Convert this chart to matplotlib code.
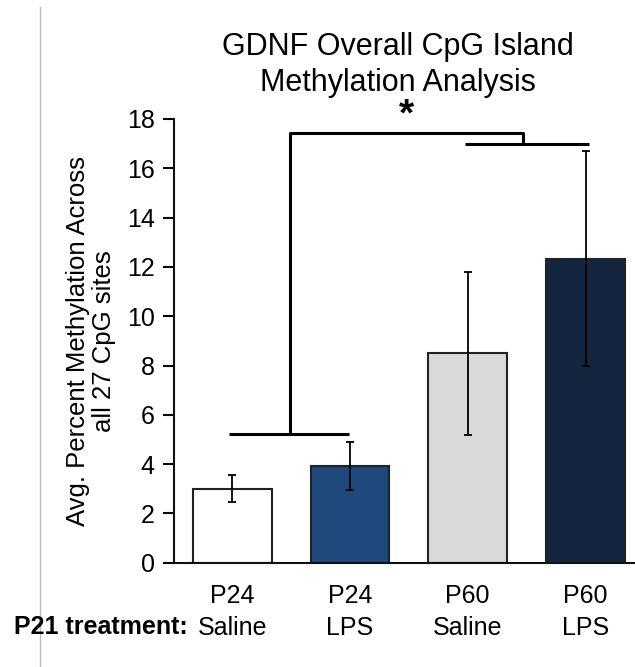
import matplotlib
matplotlib.use("Agg")
import matplotlib.pyplot as plt
from matplotlib.lines import Line2D

plt.rcParams['font.family'] = ['Liberation Sans', 'DejaVu Sans']

ages = ["P24", "P24", "P60", "P60"]
treatments = ["Saline", "LPS", "Saline", "LPS"]
means = [3.0, 3.92, 8.5, 12.33]
errors = [0.55, 0.99, 3.3, 4.37]
colors = ["#FFFFFF", "#1F497D", "#D9D9D9", "#14263F"]

fig = plt.figure(figsize=(6.35, 6.67), dpi=100)
W, H = 635, 667
left_px, right_px = 174, 635
top_px, bot_px = 119, 562.7
ax = fig.add_axes([left_px / W, (H - bot_px) / H, (right_px - left_px) / W, (bot_px - top_px) / H])

x = list(range(len(means)))
ax.bar(x, means, width=0.67, color=colors, edgecolor="#222222", linewidth=1.5, zorder=2)
ax.errorbar(x, means, yerr=errors, fmt="none", ecolor="black", elinewidth=1.3,
            capsize=3, capthick=1.3, zorder=3)

ax.set_xlim(-0.494, 3.42)
ax.set_ylim(0, 18)
ax.set_yticks(range(0, 19, 2))
ax.set_xticks(x)
ax.set_xticklabels([f"{a}\n{t}" for a, t in zip(ages, treatments)], fontsize=18, linespacing=1.42)
ax.tick_params(axis='x', length=0, pad=15)
ax.tick_params(axis='y', direction='out', length=8, width=1.5, labelsize=18, pad=6)
for s in ["top", "right"]:
    ax.spines[s].set_visible(False)
for s in ["left", "bottom"]:
    ax.spines[s].set_linewidth(1.5)
    ax.spines[s].set_color("#111111")

ax.set_ylabel("Avg. Percent Methylation Across\nall 27 CpG sites", fontsize=18.5, linespacing=1.1, labelpad=8)

# significance brackets
lw = 2.2
ax.plot([-0.03, 0.99], [5.24, 5.24], color="black", lw=lw, clip_on=False, solid_capstyle='butt')
ax.plot([0.49, 0.49, 2.47, 2.47], [5.24, 17.45, 17.45, 17.0], color="black", lw=lw, clip_on=False, solid_capstyle='butt')
ax.plot([1.98, 3.03], [17.0, 17.0], color="black", lw=lw, clip_on=False, solid_capstyle='butt')
ax.text(1.48, 18.15, "*", fontsize=28, fontweight='bold', ha='center', va='center', clip_on=False)

fig.text(398 / W, 1 - 65 / H, "GDNF Overall CpG Island\nMethylation Analysis", fontsize=22,
         ha='center', va='center', linespacing=1.3)
fig.text(188 / W, 1 - 627 / H, "P21 treatment:", fontsize=18, fontweight='bold', ha='right', va='center')

fig.add_artist(Line2D([40 / W, 40 / W], [0, 1 - 7 / H], color="#BBBBBB", lw=1.0))

fig.savefig("out.png", dpi=100)
